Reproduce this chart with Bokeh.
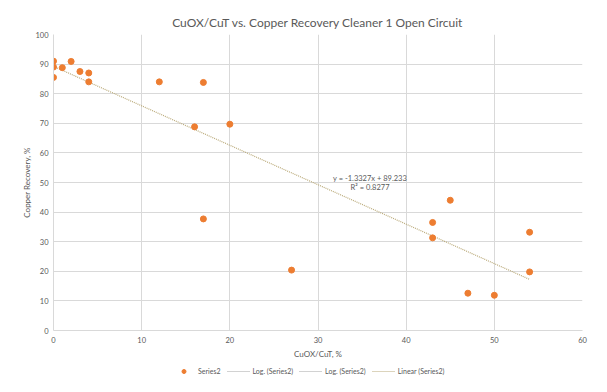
from bokeh.plotting import figure
from bokeh.models import Legend, LegendItem, Range1d, FixedTicker, Label
from bokeh.layouts import column
from bokeh.embed import file_html
from bokeh.resources import INLINE

# data
cuox_cut = [0, 0, 0, 1, 2, 3, 4, 4, 12, 16, 17, 17, 20, 27, 43, 43, 45, 47, 50, 54, 54]
recovery = [91, 89, 85.5, 88.8, 90.9, 87.5, 87, 84, 84, 68.8, 83.8, 37.7, 69.7, 20.4, 36.5, 31.3, 44, 12.6, 11.9, 33.2, 19.8]
slope = -1.3327
intercept = 89.233
r2 = 0.8277
x_ticks = [0, 10, 20, 30, 40, 50, 60]
y_ticks = [0, 10, 20, 30, 40, 50, 60, 70, 80, 90, 100]
legend_labels = ["Series2", "Log. (Series2)", "Log. (Series2)", "Linear (Series2)"]

FONT = "Lato"
TXT = "#595959"
ORANGE = "#ed7d31"
TREND = "#b9a978"

p = figure(width=591, height=361, output_backend="svg", toolbar_location=None,
           x_range=Range1d(0, 60), y_range=Range1d(0, 100),
           min_border_left=53, min_border_right=9, min_border_top=34, min_border_bottom=30,
           title="CuOX/CuT vs. Copper Recovery Cleaner 1 Open Circuit")
p.title.align = "center"
p.title.offset = 14
p.title.text_font = FONT
p.title.text_font_size = "12px"
p.title.text_font_style = "normal"
p.title.text_color = TXT
p.outline_line_color = None
p.background_fill_color = "white"
p.border_fill_color = "white"

for ax in (p.xaxis[0], p.yaxis[0]):
    ax.major_label_text_font = FONT
    ax.major_label_text_font_size = "7.5px"
    ax.major_label_text_color = TXT
    ax.axis_label_text_font = FONT
    ax.axis_label_text_font_size = "8px"
    ax.axis_label_text_font_style = "normal"
    ax.axis_label_text_color = TXT
    ax.major_tick_line_color = None
    ax.minor_tick_line_color = None
    ax.major_tick_out = 0
    ax.major_tick_in = 0
    ax.minor_tick_out = 0
    ax.minor_tick_in = 0
    ax.axis_line_color = "#d9d9d9"
p.xaxis[0].ticker = FixedTicker(ticks=x_ticks)
p.yaxis[0].ticker = FixedTicker(ticks=y_ticks)
p.xaxis.axis_label = "CuOX/CuT, %"
p.yaxis.axis_label = "Copper Recovery, %"
p.xaxis.major_label_standoff = 6
p.yaxis.major_label_standoff = 5
p.xaxis.axis_label_standoff = 3
p.yaxis.axis_label_standoff = 0
p.xgrid.ticker = FixedTicker(ticks=x_ticks)
p.ygrid.ticker = FixedTicker(ticks=y_ticks)
p.grid.grid_line_color = "#d9d9d9"
p.grid.grid_line_width = 1

xs_fit = [min(cuox_cut), max(cuox_cut)]
ys_fit = [slope * v + intercept for v in xs_fit]
p.line(xs_fit, ys_fit, line_color=TREND, line_width=1.2, line_dash="1 1")
p.scatter(cuox_cut, recovery, size=6, fill_color=ORANGE, line_color=ORANGE)

p.add_layout(Label(x=35.9, y=51.5, text="y = -1.3327x + 89.233", text_font=FONT,
                   text_font_size="7.5px", text_color=TXT, text_align="center", text_baseline="middle"))
p.add_layout(Label(x=35.9, y=48.2, text="R² = 0.8277", text_font=FONT,
                   text_font_size="7.5px", text_color=TXT, text_align="center", text_baseline="middle"))

# legend strip below the chart
nan = float("nan")
lf = figure(width=591, height=22, output_backend="svg", toolbar_location=None,
            x_range=Range1d(0, 1), y_range=Range1d(0, 1),
            min_border=0, outline_line_color=None)
lf.axis.visible = False
lf.grid.visible = False
lf.border_fill_color = "white"
r_pts = lf.scatter([nan], [nan], size=6, fill_color=ORANGE, line_color=ORANGE)
r_log1 = lf.line([nan, nan], [nan, nan], line_color="#a5a5a5", line_width=1.2, line_dash="1 1")
r_log2 = lf.line([nan, nan], [nan, nan], line_color="#a5a5a5", line_width=1.2, line_dash="1 1")
r_lin = lf.line([nan, nan], [nan, nan], line_color=TREND, line_width=1.2, line_dash="1 1")
legend = Legend(items=[LegendItem(label=legend_labels[0], renderers=[r_pts]),
                       LegendItem(label=legend_labels[1], renderers=[r_log1]),
                       LegendItem(label=legend_labels[2], renderers=[r_log2]),
                       LegendItem(label=legend_labels[3], renderers=[r_lin])],
                orientation="horizontal", location=(119, 7),
                label_text_font=FONT, label_text_font_size="7px", label_text_color=TXT,
                glyph_width=23, glyph_height=10, label_standoff=3, label_height=10,
                spacing=6, padding=0, margin=0,
                border_line_color=None, background_fill_alpha=0)
lf.add_layout(legend, "center")

open("out.html", "w").write(file_html(column(p, lf, spacing=0), INLINE))
